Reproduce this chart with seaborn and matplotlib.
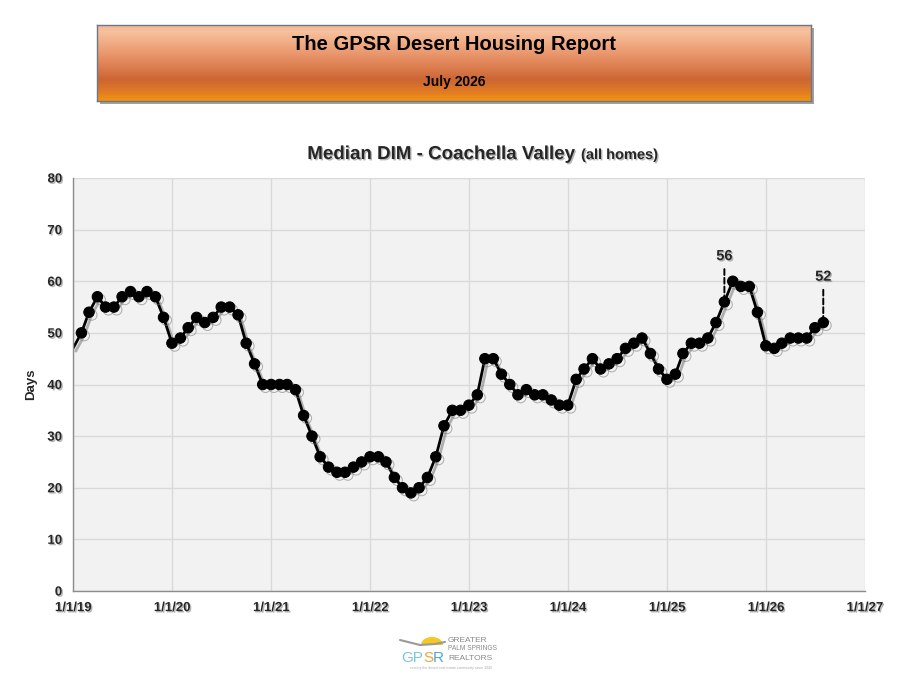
import matplotlib
matplotlib.use('Agg')
import matplotlib.pyplot as plt
import matplotlib.patheffects as pe
from matplotlib.patches import Rectangle, Wedge
import seaborn as sns
import pandas as pd
import numpy as np

# Median days in market, month-end values (Dec 2018 .. Jul 2026)
months = pd.date_range('2018-12-31', '2026-07-31', freq='ME')
days = [47,
        50, 54, 57, 55, 55, 57, 58, 57, 58, 57, 53, 48,      # 2019
        49, 51, 53, 52, 53, 55, 55, 53.5, 48, 44, 40, 40,    # 2020
        40, 40, 39, 34, 30, 26, 24, 23, 23, 24, 25, 26,      # 2021
        26, 25, 22, 20, 19, 20, 22, 26, 32, 35, 35, 36,      # 2022
        38, 45, 45, 42, 40, 38, 39, 38, 38, 37, 36, 36,      # 2023
        41, 43, 45, 43, 44, 45, 47, 48, 49, 46, 43, 41,      # 2024
        42, 46, 48, 48, 49, 52, 56, 60, 59, 59, 54, 47.5,    # 2025
        47, 48, 49, 49, 49, 51, 52]                          # 2026
labelled = ['2025-07-31', '2026-07-31']
tick_dates = pd.to_datetime(['2019-01-01', '2020-01-01', '2021-01-01', '2022-01-01',
                             '2023-01-01', '2024-01-01', '2025-01-01', '2026-01-01',
                             '2027-01-01'])
tick_labels = ['1/1/19', '1/1/20', '1/1/21', '1/1/22', '1/1/23', '1/1/24',
               '1/1/25', '1/1/26', '1/1/27']

df = pd.DataFrame({'date': months, 'days': days})

sns.set_style('whitegrid', {'axes.facecolor': '#F2F2F2', 'grid.color': '#D9D9D9',
                            'axes.edgecolor': '#8C8C8C'})
plt.rcParams['font.family'] = ['Liberation Sans', 'DejaVu Sans']

W, H = 922, 679
def fx(x):
    return x / W
def fy(y):
    return 1 - y / H

shadow_txt = [pe.withSimplePatchShadow(offset=(1, -1), shadow_rgbFace='#888888', alpha=0.6)]

fig = plt.figure(figsize=(W / 100, H / 100), dpi=100)

# header banner
sh = Rectangle((fx(100), fy(104)), fx(714), 76 / H, transform=fig.transFigure,
               facecolor='#555555', alpha=0.55, edgecolor='none', zorder=-5)
fig.patches.append(sh)
axh = fig.add_axes([fx(97), fy(101), fx(714), 76 / H])
t = np.linspace(0, 1, 120)
stops = [0, 0.08, 0.45, 0.72, 0.88, 1.0]
r = np.interp(t, stops, [0.95, 0.97, 0.90, 0.80, 0.88, 0.95])
g = np.interp(t, stops, [0.72, 0.76, 0.55, 0.40, 0.48, 0.58])
b = np.interp(t, stops, [0.58, 0.62, 0.38, 0.20, 0.14, 0.06])
grad = np.stack([r, g, b], axis=1)[:, None, :].repeat(4, axis=1)
axh.imshow(grad, aspect='auto', extent=[0, 1, 0, 1])
axh.set_xticks([])
axh.set_yticks([])
axh.grid(False)
for s in axh.spines.values():
    s.set_color('#6F7787')
    s.set_linewidth(1)
fig.text(fx(454), fy(44), 'The GPSR Desert Housing Report', ha='center', va='center',
         fontsize=14.5, fontweight='bold', color='black')
fig.text(fx(454), fy(82), 'July 2026', ha='center', va='center',
         fontsize=10, fontweight='bold', color='black')

# chart title
fig.text(fx(580), fy(159), 'Median DIM - Coachella Valley ', ha='right', va='baseline',
         fontsize=13.5, fontweight='bold', path_effects=shadow_txt)
fig.text(fx(581), fy(159), '(all homes)', ha='left', va='baseline',
         fontsize=10.5, fontweight='bold', path_effects=shadow_txt)

ax = fig.add_axes([fx(73.3), fy(591), (865 - 73.3) / W, (591 - 178) / H])
sns.lineplot(data=df, x='date', y='days', ax=ax, color='black', linewidth=2,
             marker='o', markersize=7.5, markeredgecolor='black',
             markevery=list(range(1, len(df))))
line = ax.get_lines()[0]
line.set_path_effects([pe.SimpleLineShadow(offset=(2, -2), shadow_color='#777777', alpha=0.55),
                       pe.Normal()])

ax.set_xlim(tick_dates[0], tick_dates[-1])
ax.set_ylim(0, 80)
ax.set_yticks(range(0, 81, 10))
ax.set_xticks(tick_dates)
ax.set_xticklabels(tick_labels)
ax.tick_params(axis='both', length=4, width=1, color='#8C8C8C', direction='out',
               labelsize=9.5, pad=4)
for lab in ax.get_xticklabels() + ax.get_yticklabels():
    lab.set_fontweight('bold')
    lab.set_path_effects(shadow_txt)
ax.grid(True, color='#D9D9D9', linewidth=1)
for side in ['top', 'right']:
    ax.spines[side].set_visible(False)
for side in ['left', 'bottom']:
    ax.spines[side].set_color('#8C8C8C')
    ax.spines[side].set_linewidth(1)
ax.set_xlabel('')
ax.set_ylabel('Days', fontsize=9.5, fontweight='bold')
ax.yaxis.set_label_coords(-0.046, 0.5)

for d in labelled:
    v = df.loc[df['date'] == pd.Timestamp(d), 'days'].iloc[0]
    ax.annotate(f'{v:g}', xy=(pd.Timestamp(d), v), xytext=(0, 33), textcoords='offset points',
                ha='center', va='center', fontsize=10.5, fontweight='bold',
                path_effects=shadow_txt,
                arrowprops=dict(arrowstyle='-', linestyle=(0, (3, 1.5)), color='black',
                                lw=1.4, shrinkA=2, shrinkB=4))

# logo
fig.patches.append(Wedge((fx(432), fy(645)), fx(11), 0, 180, transform=fig.transFigure,
                         facecolor='#F6C824', edgecolor='none'))
fig.lines.append(plt.Line2D([fx(400), fx(420), fx(435), fx(445)],
                            [fy(640), fy(645), fy(644), fy(642)],
                            transform=fig.transFigure, color='#9A9A9A', lw=1.5))
t1 = fig.text(fx(401), fy(662), 'GP', ha='left', va='baseline', fontsize=11, color='#7CC3E0')
t2 = plt.annotate('S', xy=(1, 0), xycoords=t1, ha='left', va='bottom', fontsize=11,
                  color='#F2A23C', annotation_clip=False)
t2.remove()
fig.add_artist(t2)
t3 = plt.annotate('R', xy=(1, 0), xycoords=t2, ha='left', va='bottom', fontsize=11,
                  color='#4FA6D6', annotation_clip=False)
t3.remove()
fig.add_artist(t3)
fig.text(fx(448), fy(640), 'GREATER', ha='left', va='center', fontsize=6, color='#8A8A8A')
fig.text(fx(448), fy(649), 'PALM SPRINGS', ha='left', va='center', fontsize=4.8, color='#8A8A8A')
fig.text(fx(448), fy(658), 'REALTORS', ha='left', va='center', fontsize=6, color='#8A8A8A')
fig.text(fx(451), fy(668), 'serving the desert real estate community since 1949', ha='center',
         va='center', fontsize=2.5, color='#AAAAAA')

fig.savefig('out.png', dpi=100)
